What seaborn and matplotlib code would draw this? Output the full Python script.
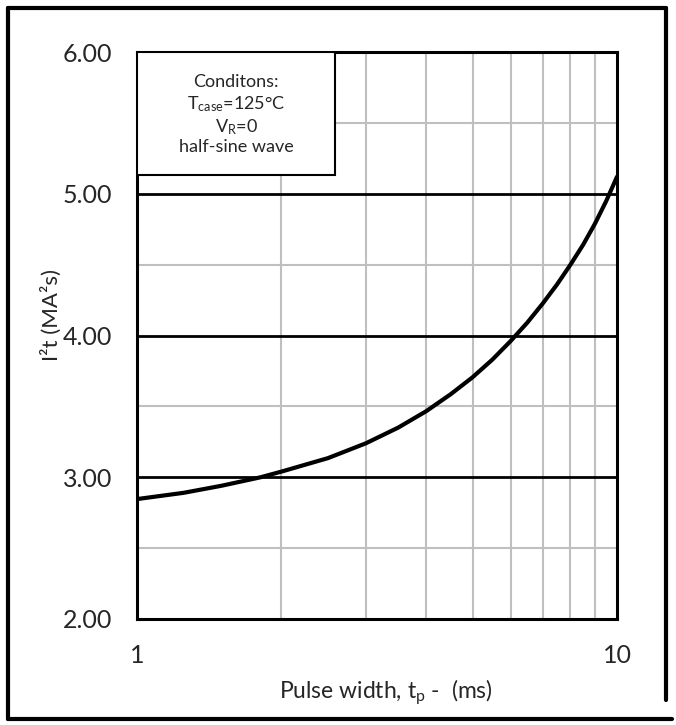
import matplotlib.pyplot as plt
import numpy as np
import pandas as pd
import seaborn as sns
from matplotlib.lines import Line2D
from matplotlib.patches import Rectangle
from matplotlib.ticker import FixedLocator, MultipleLocator, NullFormatter

# values
pulse_ms = [1, 1.25, 1.5, 1.81, 2, 2.5, 3, 3.5, 4, 4.5, 5, 5.5, 6, 6.5, 7, 7.5, 8, 8.5, 9, 9.5, 10]
i2t_ma2s = [2.846, 2.89, 2.94, 3.0, 3.04, 3.135, 3.24, 3.35, 3.465, 3.585, 3.705, 3.83,
            3.96, 4.09, 4.225, 4.36, 4.50, 4.64, 4.79, 4.95, 5.12]
x_ticks = [1, 10]
x_tick_labels = ["1", "10"]
conditions = ["Conditons:", r"T$_{\mathrm{case}}$=125°C", r"V$_{\mathrm{R}}$=0", "half-sine wave"]

sns.set_theme(style="white")
plt.rcParams["font.family"] = ["Lato", "DejaVu Sans"]
plt.rcParams["mathtext.fontset"] = "custom"
plt.rcParams["mathtext.rm"] = "Lato"
plt.rcParams["mathtext.it"] = "Lato:italic"

df = pd.DataFrame({"pulse": pulse_ms, "i2t": i2t_ma2s})

fig = plt.figure(figsize=(6.76, 7.25), dpi=100)
ax = fig.add_axes([137 / 676, 1 - 619 / 725, 480 / 676, 567 / 725])

sns.lineplot(data=df, x="pulse", y="i2t", ax=ax, color="black", linewidth=3, zorder=5)

ax.set_xscale("log")
ax.set_xlim(1, 10)
ax.set_ylim(2, 6)
ax.xaxis.set_major_locator(FixedLocator(x_ticks))
ax.set_xticklabels(x_tick_labels)
ax.xaxis.set_minor_formatter(NullFormatter())
ax.yaxis.set_major_locator(MultipleLocator(1))
ax.yaxis.set_minor_locator(MultipleLocator(0.5))
ax.yaxis.set_major_formatter(lambda v, pos: f"{v:.2f}")

ax.grid(which="minor", axis="x", color="#bfbfbf", linewidth=1.5)
ax.grid(which="minor", axis="y", color="#bfbfbf", linewidth=1.5)
ax.grid(which="major", axis="y", color="black", linewidth=2)
ax.set_axisbelow(True)

ax.tick_params(which="both", length=0)
ax.tick_params(axis="x", pad=18, labelsize=18)
ax.tick_params(axis="y", pad=18, labelsize=18)

for spine in ax.spines.values():
    spine.set_color("black")
    spine.set_linewidth(2.2)

ax.set_xlabel(r"Pulse width, t$_{\mathrm{p}}$ -  (ms)", fontsize=16.5)
ax.set_ylabel("I²t (MA²s)", fontsize=16)
ax.xaxis.set_label_coords(0.519, -(677 - 619) / 567)
ax.yaxis.set_label_coords(-(137 - 62) / 480, (619 - 315) / 567)

# conditions box
ax.add_patch(Rectangle((0, 0.783), 0.413, 0.217, transform=ax.transAxes,
                       facecolor="white", edgecolor="black", linewidth=1.5, zorder=6))
for txt, ypos in zip(conditions, [0.947, 0.908, 0.868, 0.832]):
    ax.text(0.207, ypos, txt, transform=ax.transAxes, ha="center", va="center",
            fontsize=13, zorder=7)

# outer frame
fx = lambda px: px / 676
fy = lambda py: 1 - py / 725
frame = dict(color="black", linewidth=3, transform=fig.transFigure)
fig.add_artist(Line2D([fx(8), fx(8)], [fy(8), fy(719)], **frame))
fig.add_artist(Line2D([fx(8), fx(666)], [fy(8), fy(8)], **frame))
fig.add_artist(Line2D([fx(8), fx(672)], [fy(719), fy(719)], **frame))
fig.add_artist(Line2D([fx(666), fx(666)], [fy(8), fy(700)], **frame))

fig.savefig("out.png", dpi=100)
